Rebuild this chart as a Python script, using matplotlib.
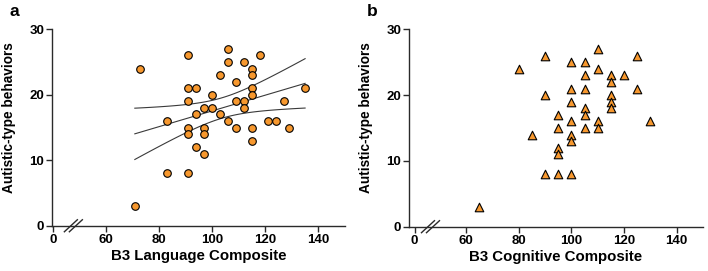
import numpy as np
import matplotlib
matplotlib.use("Agg")
import matplotlib.pyplot as plt
from matplotlib.lines import Line2D

plt.rcParams['font.family'] = ['Liberation Sans', 'DejaVu Sans']
plt.rcParams['font.weight'] = 'bold'

# panel a: language composite vs autistic-type behaviors
lang_x = [73, 71, 83, 83, 91, 91, 91, 91, 91, 91, 94, 94, 94, 97, 97, 97, 97,
          100, 100, 103, 103, 106, 106, 106, 109, 109, 109, 112, 112, 112,
          115, 115, 115, 115, 115, 115, 118, 121, 124, 127, 129, 135]
lang_y = [24, 3, 16, 8, 26, 21, 19, 15, 14, 8, 21, 17, 12, 18, 15, 14, 11,
          20, 18, 23, 17, 27, 25, 16, 22, 19, 15, 25, 19, 18,
          24, 23, 21, 20, 15, 13, 26, 16, 16, 19, 15, 21]

# panel b: cognitive composite vs autistic-type behaviors
cog_x = [65, 80, 85, 90, 90, 90, 95, 95, 95, 95, 95,
         100, 100, 100, 100, 100, 100, 100, 105, 105, 105, 105, 105, 105,
         110, 110, 110, 110, 115, 115, 115, 115, 115, 120, 125, 125, 130]
cog_y = [3, 24, 14, 26, 20, 8, 17, 15, 12, 11, 8,
         25, 21, 19, 16, 14, 13, 8, 25, 23, 21, 18, 17, 15,
         27, 24, 16, 15, 23, 22, 20, 19, 18, 23, 26, 21, 16]

x_ticks = [0, 60, 80, 100, 120, 140]
y_ticks = [0, 10, 20, 30]

orange = '#F7982E'


# broken x axis: 0..50 squeezed into a short stub
def fwd(x):
    x = np.asarray(x, dtype=float)
    return np.where(x < 50, 40.35 + 0.193 * x, x)


def inv(y):
    y = np.asarray(y, dtype=float)
    return np.where(y < 50, (y - 40.35) / 0.193, y)


fig = plt.figure(figsize=(7.08, 2.71), dpi=100)
ax_a = fig.add_axes([52 / 708, 0.167, 293 / 708, 0.725])
ax_b = fig.add_axes([409 / 708, 0.1635, 294 / 708, 0.728])


def style(ax, xmin, xlabel):
    ax.set_xscale('function', functions=(fwd, inv))
    ax.set_xlim(xmin, 150)
    ax.set_ylim(0, 30)
    ax.set_xticks(x_ticks)
    ax.set_yticks(y_ticks)
    ax.xaxis.set_minor_locator(matplotlib.ticker.NullLocator())
    for s in ['top', 'right']:
        ax.spines[s].set_visible(False)
    for s in ['left', 'bottom']:
        ax.spines[s].set_linewidth(1.0)
        ax.spines[s].set_color('#2a2a2a')
    ax.tick_params(direction='out', length=4, width=1.0, color='#2a2a2a',
                   labelsize=9.5)
    ax.tick_params(axis='y', pad=1.5)
    ax.tick_params(axis='x', pad=2)
    for lab in ax.get_xticklabels() + ax.get_yticklabels():
        lab.set_fontweight('bold')
    ax.set_xlabel(xlabel, fontsize=10.8, fontweight='bold', labelpad=2)
    ax.set_ylabel('Autistic-type behaviors', fontsize=9.8, fontweight='bold')
    ax.yaxis.set_label_coords(-0.123, 0.551)


style(ax_a, -2.5, 'B3 Language Composite')
style(ax_b, -11, 'B3 Cognitive Composite')

ax_a.scatter(lang_x, lang_y, s=30, marker='o', facecolor=orange,
             edgecolor='black', linewidth=0.8, zorder=3, clip_on=False)
ax_b.scatter(cog_x, cog_y, s=38, marker='^', facecolor=orange,
             edgecolor='black', linewidth=0.8, zorder=3, clip_on=False)

# linear fit with 95% confidence band for panel a
xa = np.array(lang_x, dtype=float)
ya = np.array(lang_y, dtype=float)
n = len(xa)
slope, icpt = np.polyfit(xa, ya, 1)
resid = ya - (slope * xa + icpt)
s_err = np.sqrt(np.sum(resid ** 2) / (n - 2))
sxx = np.sum((xa - xa.mean()) ** 2)
xl = np.linspace(xa.min(), xa.max(), 100)
yl = slope * xl + icpt
half = 2.021 * s_err * np.sqrt(1 / n + (xl - xa.mean()) ** 2 / sxx)
for yy in [yl, yl + half, yl - half]:
    ax_a.plot(xl, yy, color='#3a3a3a', lw=0.8, zorder=2)

# break marks on the x axis
fig.canvas.draw()
to_fig = fig.transFigure.inverted()
for ax, xb in [(ax_a, 39.1), (ax_b, 31.3)]:
    px, py = ax.transData.transform((xb, 0))
    for off in [-2.5, 2.5]:
        pts = np.array([[px + off - 6.5, py - 6], [px + off + 6.5, py + 6]])
        f = to_fig.transform(pts)
        fig.add_artist(Line2D(f[:, 0], f[:, 1], color='#2a2a2a', lw=1.0))

fig.text(10 / 708, 1 - 16 / 271, 'a', fontsize=12.5, fontweight='bold')
fig.text(367 / 708, 1 - 16 / 271, 'b', fontsize=12.5, fontweight='bold')

fig.savefig('out.png', dpi=100)
